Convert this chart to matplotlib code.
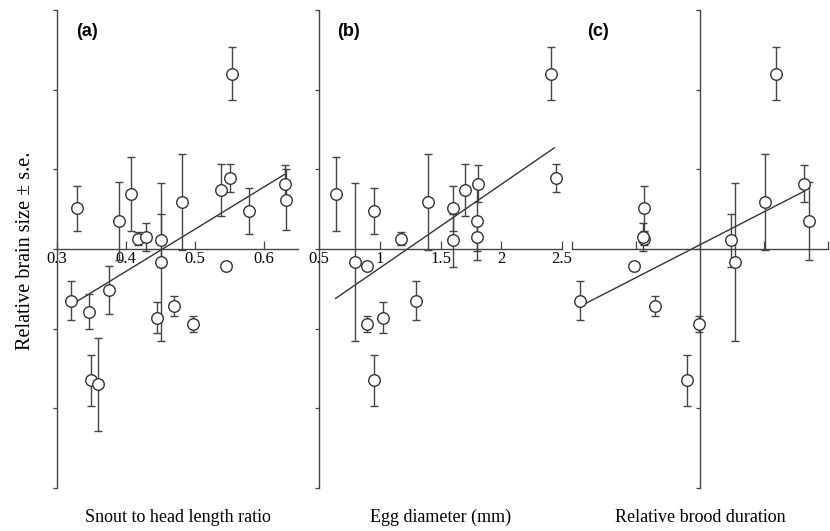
import numpy as np
import matplotlib
matplotlib.use("Agg")
import matplotlib.pyplot as plt

nan = np.nan
# Per-species values
brain_size = [0.51, 0.35, 0.69, 0.13, 0.15, 0.11, -0.16, 0.59, 0.74, 0.89, 2.20, 0.48,
              0.82, 0.62, -0.65, -0.79, -0.51, -1.65, -1.70, -0.86, -0.715, -0.94, -0.21]
brain_se = [0.28, 0.49, 0.46, 0.08, 0.18, 0.33, 0.99, 0.60, 0.33, 0.18, 0.33, 0.29,
            0.23, 0.38, 0.245, 0.22, 0.30, 0.32, 0.58, 0.20, 0.13, 0.10, 0.0]
snout_ratio = [0.329, 0.390, 0.407, 0.418, 0.429, 0.451, 0.451, 0.481, 0.538, 0.551, 0.5535, 0.579,
               0.631, 0.632, 0.321, 0.347, 0.376, 0.350, 0.360, 0.4447, 0.470, 0.497, 0.545]
egg_diameter = [1.60, 1.80, 0.64, 1.175, 1.80, 1.60, 0.796, 1.40, 1.70, 2.45, 2.41, 0.953,
                1.81, nan, 1.30, nan, nan, 0.955, nan, 1.03, nan, 0.898, 0.898]
brood_duration = [-0.875, 1.71, nan, -0.88, -0.885, 0.48, 0.547, 1.016, nan, nan, 1.18, nan,
                  1.63, nan, -1.875, nan, nan, -0.2, nan, nan, -0.71, -0.016, -1.03]

# Fitted trend lines (endpoints)
trend_a_x = [0.321, 0.632]
trend_a_y = [-0.70, 0.945]
trend_b_x = [0.637, 2.437]
trend_b_y = [-0.62, 1.27]
trend_c_x = [-1.875, 1.64]
trend_c_y = [-0.72, 0.73]

panel_labels = ["(a)", "(b)", "(c)"]
x_labels = ["Snout to head length ratio", "Egg diameter (mm)", "Relative brood duration"]
y_label = "Relative brain size \u00b1 s.e."

W, H = 830, 531
fig = plt.figure(figsize=(W / 100, H / 100), dpi=100)

serif = ["Liberation Serif", "DejaVu Serif"]
sans = ["Liberation Sans", "DejaVu Sans"]

def make_ax(x0, x1, xlim, yaxis_at, xticks, xticklabels):
    ax = fig.add_axes([x0 / W, 1 - 488 / H, (x1 - x0) / W, (488 - 10) / H])
    ax.set_xlim(*xlim)
    ax.set_ylim(-3, 3)
    for s in ["top", "right"]:
        ax.spines[s].set_visible(False)
    ax.spines["left"].set_position(("data", yaxis_at))
    ax.spines["bottom"].set_position(("data", 0))
    for s in ["left", "bottom"]:
        ax.spines[s].set_color("#444444")
        ax.spines[s].set_linewidth(1.0)
    ax.set_yticks(np.arange(-3, 4, 1))
    ax.set_yticklabels([])
    ax.tick_params(axis="y", direction="out", length=3, width=0.9, color="#444444")
    ax.set_xticks(xticks)
    ax.set_xticklabels(xticklabels, fontfamily=serif, fontsize=12)
    ax.tick_params(axis="x", direction="in", length=6, width=0.9, color="#444444", pad=1.5)
    ax.patch.set_alpha(0)
    return ax

ax_a = make_ax(57, 298, (0.3, 0.65), 0.3, [0.3, 0.4, 0.5, 0.6], ["0.3", "0.4", "0.5", "0.6"])
ax_b = make_ax(319, 562, (0.5, 2.5), 0.5, [0.5, 1, 1.5, 2, 2.5], ["0.5", "1", "1.5", "2", "2.5"])
ax_c = make_ax(572, 828, (-2, 2), 0, [-2, -1, 0, 1, 2], ["", "", "", "", ""])

bs = np.array(brain_size)
se = np.array(brain_se)
label_pos = [0.08, 0.075, 0.06]
for i, (ax, xv, tx, ty) in enumerate([
    (ax_a, snout_ratio, trend_a_x, trend_a_y),
    (ax_b, egg_diameter, trend_b_x, trend_b_y),
    (ax_c, brood_duration, trend_c_x, trend_c_y),
]):
    xv = np.array(xv, dtype=float)
    m = ~np.isnan(xv)
    ax.plot(tx, ty, color="#333333", lw=1.0, zorder=2)
    ax.errorbar(xv[m], bs[m], yerr=se[m], fmt="none", ecolor="#444444",
                elinewidth=1.0, capsize=3, capthick=1.0, zorder=3)
    ax.plot(xv[m], bs[m], "o", ms=8.3, mfc="white", mec="#333333", mew=1.0, zorder=4,
            clip_on=False)
    ax.text(label_pos[i], 0.955, panel_labels[i], transform=ax.transAxes, fontfamily=sans,
            fontweight="bold", fontsize=13, va="center", ha="left")
    pos = ax.get_position()
    fig.text((pos.x0 + pos.x1) / 2, 1 - 517 / H, x_labels[i], fontfamily=serif,
             fontsize=13, ha="center", va="center")

fig.text(26 / W, 1 - 251 / H, y_label, rotation=90, fontfamily=serif, fontsize=14.5,
         ha="center", va="center")

fig.savefig("out.png", dpi=100)
